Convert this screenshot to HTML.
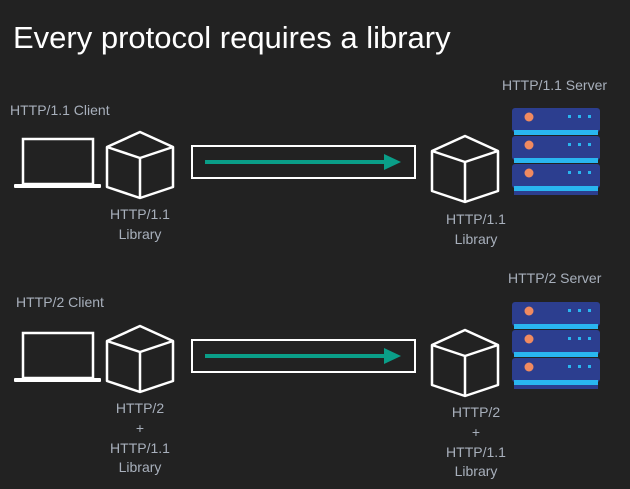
<!DOCTYPE html><html><head><style>body{margin:0;background:#222222;}svg{display:block}text{font-family:"Liberation Sans",sans-serif;}</style></head><body>
<svg width="630" height="489" viewBox="0 0 630 489" xmlns="http://www.w3.org/2000/svg">
<rect width="630" height="489" fill="#222222"/>
<text x="13" y="48" font-size="31" fill="#ffffff">Every protocol requires a library</text>
<defs>
<g id="laptop">
<rect x="23" y="139" width="70" height="45" fill="none" stroke="#fff" stroke-width="2.5"/>
<rect x="14" y="184" width="87" height="4" fill="#fff" rx="1"/>
</g>
<g id="cube" fill="none" stroke="#fff" stroke-width="2.5" stroke-linejoin="round">
<path d="M0,-33 L33,-18 L33,22 L0,33 L-33,22 L-33,-18 Z M-33,-18 L0,-7 L33,-18 M0,-7 L0,33"/>
</g>
<g id="unit">
<rect x="0" y="0" width="88" height="24" rx="3" fill="#2c3e8f"/>
<rect x="2" y="22" width="84" height="5" fill="#29b6f0"/>
<circle cx="17" cy="9" r="4.5" fill="#f08a60"/>
<rect x="56" y="7" width="3" height="3" fill="#29b6f0"/><rect x="66" y="7" width="3" height="3" fill="#29b6f0"/><rect x="76" y="7" width="3" height="3" fill="#29b6f0"/>
</g>
<g id="server">
<use href="#unit" x="512" y="108"/><use href="#unit" x="512" y="136"/><use href="#unit" x="512" y="164"/>
<rect x="514" y="191" width="84" height="4" fill="#2c3e8f"/>
</g>
<g id="conn">
<rect x="192" y="146" width="223" height="32" fill="none" stroke="#fff" stroke-width="2"/>
<line x1="205" y1="162" x2="386" y2="162" stroke="#0a9e88" stroke-width="4"/>
<polygon points="384,154 401,162 384,170" fill="#0a9e88"/>
</g>
</defs>
<g fill="#a8b0bc" font-size="14">
<text x="10" y="115">HTTP/1.1 Client</text>
<text x="502" y="90">HTTP/1.1 Server</text>
<text x="140" y="219" text-anchor="middle">HTTP/1.1</text>
<text x="140" y="239" text-anchor="middle">Library</text>
<text x="476" y="224" text-anchor="middle">HTTP/1.1</text>
<text x="476" y="244" text-anchor="middle">Library</text>
<text x="16" y="307">HTTP/2 Client</text>
<text x="508" y="283">HTTP/2 Server</text>
<text x="140" y="413" text-anchor="middle">HTTP/2</text>
<text x="140" y="433" text-anchor="middle">+</text>
<text x="140" y="453" text-anchor="middle">HTTP/1.1</text>
<text x="140" y="472" text-anchor="middle">Library</text>
<text x="476" y="417" text-anchor="middle">HTTP/2</text>
<text x="476" y="437" text-anchor="middle">+</text>
<text x="476" y="457" text-anchor="middle">HTTP/1.1</text>
<text x="476" y="476" text-anchor="middle">Library</text>
</g>
<use href="#laptop"/><use href="#cube" x="140" y="165"/><use href="#conn"/><use href="#cube" x="465" y="169"/><use href="#server"/>
<g transform="translate(0,194)">
<use href="#laptop"/><use href="#cube" x="140" y="165"/><use href="#conn"/><use href="#cube" x="465" y="169"/><use href="#server"/>
</g>
</svg>
</body></html>
